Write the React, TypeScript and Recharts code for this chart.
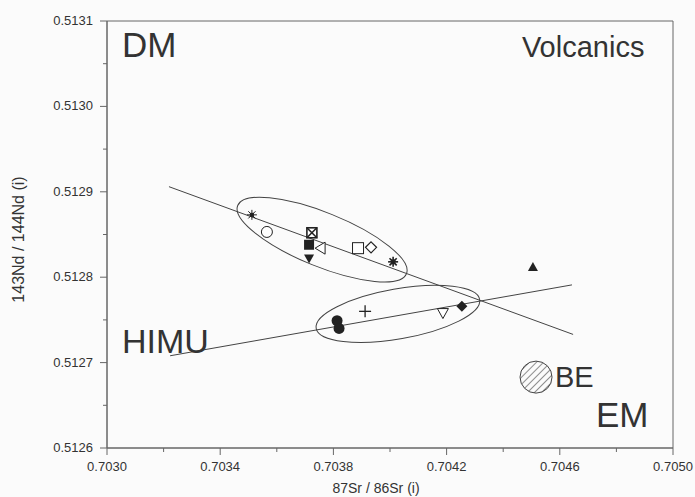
import { ScatterChart, Scatter, XAxis, YAxis, ReferenceLine, ReferenceArea } from "recharts";

document.body.style.margin = "0";

// Sample values
const srValues = [
  0.703512, 0.703565, 0.703724, 0.703714, 0.703753, 0.703714, 0.703887, 0.703933,
  0.704011, 0.703813, 0.70382, 0.703912, 0.704187, 0.704254, 0.704505,
];
const ndValues = [
  0.512873, 0.512853, 0.512852, 0.512838, 0.512834, 0.512822, 0.512834, 0.512835,
  0.512818, 0.512749, 0.51274, 0.51276, 0.512758, 0.512766, 0.512812,
];
const markers = [
  "star", "circleOpen", "squareCross", "squareFilled", "triLeftOpen", "triDownFilled",
  "squareOpen", "diamondOpen", "starBold", "circleFilled", "circleFilled", "plus",
  "triDownOpen", "diamondFilled", "triUpFilled",
];

// Mixing lines (start / end)
const lineSrStart = [0.703219, 0.703223];
const lineNdStart = [0.512906, 0.512708];
const lineSrEnd = [0.704647, 0.704643];
const lineNdEnd = [0.512733, 0.512791];

// Group ellipses (centres) and their drawn shape
const ellipseSr = [0.70376, 0.704028];
const ellipseNd = [0.512844, 0.512757];
const ellipseShape = [
  { rx: 91, ry: 27, angle: 22 },
  { rx: 83, ry: 25, angle: -10 },
];

// BE field
const beSr = [0.704516];
const beNd = [0.512683];

// End-member labels
const labelText = ["DM", "Volcanics", "HIMU", "BE", "EM"];
const labelSr = [0.703053, 0.704466, 0.703053, 0.704583, 0.704728];
const labelNd = [0.513058, 0.513058, 0.512711, 0.512671, 0.512625];
const labelSize = [35, 29, 34, 29, 35];

const xTicks = [0.703, 0.7032, 0.7034, 0.7036, 0.7038, 0.704, 0.7042, 0.7044, 0.7046, 0.7048, 0.705];
const yTicks = [0.5126, 0.51265, 0.5127, 0.51275, 0.5128, 0.51285, 0.5129, 0.51295, 0.513, 0.51305, 0.5131];

const FONT = "'Liberation Sans', Arial, sans-serif";
const INK = "#222";
const AXIS = "#666";

const samples = srValues.map((x, i) => ({ x, y: ndValues[i], marker: markers[i] }));
const ellipses = ellipseSr.map((x, i) => ({ x, y: ellipseNd[i], i }));
const beField = beSr.map((x, i) => ({ x, y: beNd[i] }));
const labels = labelSr.map((x, i) => ({ x, y: labelNd[i], text: labelText[i], size: labelSize[i] }));

function Marker(props: any) {
  const { cx, cy, payload } = props;
  if (cx == null || cy == null) return null;
  const spokes = [
    [-5, 0, 5, 0],
    [0, -5, 0, 5],
    [-3.6, -3.6, 3.6, 3.6],
    [-3.6, 3.6, 3.6, -3.6],
  ];
  switch (payload.marker) {
    case "star":
    case "starBold": {
      const w = payload.marker === "starBold" ? 1.6 : 1;
      return (
        <g stroke={INK} strokeWidth={w}>
          {spokes.map((s, k) => (
            <line key={k} x1={cx + s[0]} y1={cy + s[1]} x2={cx + s[2]} y2={cy + s[3]} />
          ))}
          <rect x={cx - 1.5} y={cy - 1.5} width={3} height={3} fill={INK} />
        </g>
      );
    }
    case "circleOpen":
      return <circle cx={cx} cy={cy} r={5.5} fill="#fff" stroke={INK} strokeWidth={1} />;
    case "circleFilled":
      return <circle cx={cx} cy={cy} r={5.5} fill={INK} />;
    case "squareCross":
      return (
        <g stroke={INK} strokeWidth={1.6}>
          <rect x={cx - 5} y={cy - 5} width={10} height={10} fill="#fff" />
          <line x1={cx - 5} y1={cy - 5} x2={cx + 5} y2={cy + 5} />
          <line x1={cx - 5} y1={cy + 5} x2={cx + 5} y2={cy - 5} />
        </g>
      );
    case "squareFilled":
      return <rect x={cx - 5} y={cy - 5} width={10} height={10} fill={INK} />;
    case "squareOpen":
      return <rect x={cx - 5.5} y={cy - 5.5} width={11} height={11} fill="#fff" stroke={INK} />;
    case "triLeftOpen":
      return (
        <polygon
          points={`${cx + 5},${cy - 6} ${cx + 5},${cy + 6} ${cx - 5},${cy}`}
          fill="#fff"
          stroke={INK}
        />
      );
    case "triDownFilled":
      return <polygon points={`${cx - 5},${cy - 4} ${cx + 5},${cy - 4} ${cx},${cy + 5}`} fill={INK} />;
    case "triDownOpen":
      return (
        <polygon
          points={`${cx - 5.5},${cy - 4.5} ${cx + 5.5},${cy - 4.5} ${cx},${cy + 5.5}`}
          fill="#fff"
          stroke={INK}
        />
      );
    case "triUpFilled":
      return <polygon points={`${cx - 5},${cy + 4} ${cx + 5},${cy + 4} ${cx},${cy - 5}`} fill={INK} />;
    case "diamondOpen":
      return (
        <polygon
          points={`${cx},${cy - 5.5} ${cx + 5.5},${cy} ${cx},${cy + 5.5} ${cx - 5.5},${cy}`}
          fill="#fff"
          stroke={INK}
          strokeWidth={1.2}
        />
      );
    case "diamondFilled":
      return (
        <polygon points={`${cx},${cy - 5.5} ${cx + 5.5},${cy} ${cx},${cy + 5.5} ${cx - 5.5},${cy}`} fill={INK} />
      );
    case "plus":
      return (
        <g stroke={INK} strokeWidth={1.3}>
          <line x1={cx - 6} y1={cy} x2={cx + 6} y2={cy} />
          <line x1={cx} y1={cy - 6} x2={cx} y2={cy + 6} />
        </g>
      );
    default:
      return null;
  }
}

function EllipseShape(props: any) {
  const { cx, cy, payload } = props;
  const s = ellipseShape[payload.i];
  return (
    <ellipse
      cx={cx}
      cy={cy}
      rx={s.rx}
      ry={s.ry}
      transform={`rotate(${s.angle} ${cx} ${cy})`}
      fill="none"
      stroke="#444"
      strokeWidth={1}
    />
  );
}

function HatchCircle(props: any) {
  const { cx, cy } = props;
  return (
    <g>
      <defs>
        <pattern id="hatch" width={5} height={5} patternUnits="userSpaceOnUse" patternTransform="rotate(45)">
          <line x1={0} y1={0} x2={0} y2={5} stroke="#444" strokeWidth={1.2} />
        </pattern>
      </defs>
      <circle cx={cx} cy={cy} r={16} fill="url(#hatch)" stroke="#444" strokeWidth={1} />
    </g>
  );
}

function TextLabel(props: any) {
  const { cx, cy, payload } = props;
  return (
    <text x={cx} y={cy} fontFamily={FONT} fontSize={payload.size} fill="#333">
      {payload.text}
    </text>
  );
}

function XTick(props: any) {
  const { x, y, index, payload } = props;
  const major = index % 2 === 0;
  return (
    <g>
      <line x1={x} y1={y} x2={x} y2={y + (major ? 7 : 4)} stroke={AXIS} />
      {major && (
        <text x={x} y={y + 23} textAnchor="middle" fontFamily={FONT} fontSize={13} fill="#333">
          {Number(payload.value).toFixed(4)}
        </text>
      )}
    </g>
  );
}

function YTick(props: any) {
  const { x, y, index, payload } = props;
  const major = index % 2 === 0;
  return (
    <g>
      <line x1={x} y1={y} x2={x - (major ? 7 : 4)} y2={y} stroke={AXIS} />
      {major && (
        <text x={x - 14} y={y + 4} textAnchor="end" fontFamily={FONT} fontSize={13} fill="#333">
          {Number(payload.value).toFixed(4)}
        </text>
      )}
    </g>
  );
}

function XTitle(props: any) {
  const { viewBox } = props;
  const cx = viewBox.x + viewBox.width / 2 - 14;
  return (
    <text x={cx} y={viewBox.y + 45} textAnchor="middle" fontFamily={FONT} fontSize={14} fill="#333">
      87Sr / 86Sr (i)
    </text>
  );
}

function YTitle(props: any) {
  const { viewBox } = props;
  const cx = viewBox.x + 18;
  const cy = viewBox.y + viewBox.height / 2 + 5;
  return (
    <text
      x={cx}
      y={cy}
      transform={`rotate(-90 ${cx} ${cy})`}
      textAnchor="middle"
      dominantBaseline="central"
      fontFamily={FONT}
      fontSize={16}
      fill="#333"
    >
      143Nd / 144Nd (i)
    </text>
  );
}

export default function App() {
  return (
    <div style={{ width: 695, height: 497, background: "#fbfbfb" }}>
      <ScatterChart width={695} height={497} margin={{ top: 21, right: 22, bottom: 0, left: 0 }}>
        <XAxis
          type="number"
          dataKey="x"
          domain={[0.703, 0.705]}
          ticks={xTicks}
          interval={0}
          height={49}
          tickSize={0}
          tickMargin={0}
          tickLine={false}
          axisLine={{ stroke: AXIS }}
          tick={<XTick />}
          allowDataOverflow
          label={{ content: <XTitle /> }}
        />
        <YAxis
          type="number"
          dataKey="y"
          domain={[0.5126, 0.5131]}
          ticks={yTicks}
          interval={0}
          width={107}
          tickSize={0}
          tickMargin={0}
          tickLine={false}
          axisLine={{ stroke: AXIS }}
          tick={<YTick />}
          allowDataOverflow
          label={{ content: <YTitle /> }}
        />
        <ReferenceArea x1={0.703} x2={0.705} y1={0.5126} y2={0.5131} fill="none" stroke={AXIS} strokeWidth={1} />
        {lineSrStart.map((x, i) => (
          <ReferenceLine
            key={`l${i}`}
            segment={[
              { x, y: lineNdStart[i] },
              { x: lineSrEnd[i], y: lineNdEnd[i] },
            ]}
            stroke="#444"
            strokeWidth={1}
            ifOverflow="visible"
          />
        ))}
        <Scatter data={ellipses} shape={<EllipseShape />} isAnimationActive={false} />
        <Scatter data={beField} shape={<HatchCircle />} isAnimationActive={false} />
        <Scatter data={samples} shape={<Marker />} isAnimationActive={false} />
        <Scatter data={labels} shape={<TextLabel />} isAnimationActive={false} />
      </ScatterChart>
    </div>
  );
}
